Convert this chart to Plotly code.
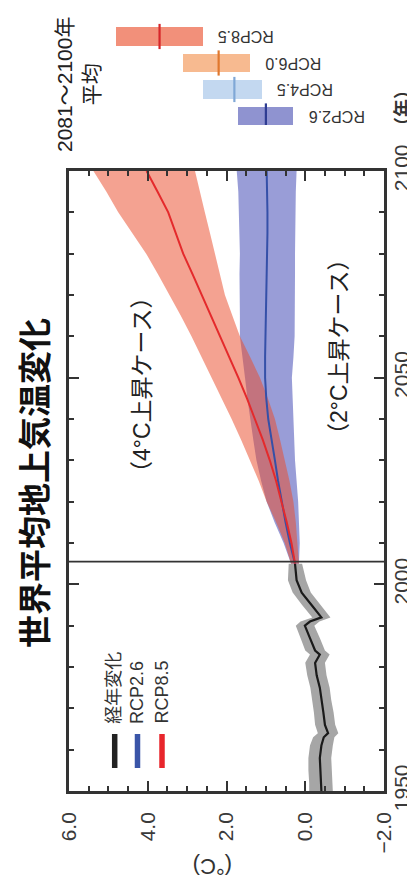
import plotly.graph_objects as go

# ---------------- data ----------------
hist_years = [1950, 1952, 1955, 1958, 1961, 1963, 1964, 1966, 1969, 1972, 1975, 1978,
              1981, 1983, 1984, 1987, 1990, 1991, 1992, 1995, 1998, 2001, 2005]
hist_mean = [-0.41, -0.40, -0.38, -0.37, -0.41, -0.47, -0.58, -0.50, -0.46, -0.41, -0.37, -0.29,
             -0.25, -0.37, -0.25, -0.12, 0.01, -0.12, -0.41, -0.16, 0.09, 0.22, 0.26]
hist_hi = [-0.10, -0.10, -0.08, -0.08, -0.12, -0.20, -0.32, -0.25, -0.22, -0.17, -0.13, -0.05,
           0.00, -0.12, 0.00, 0.12, 0.24, 0.12, -0.18, 0.08, 0.32, 0.44, 0.42]
hist_lo = [-0.70, -0.70, -0.68, -0.66, -0.70, -0.74, -0.84, -0.76, -0.72, -0.66, -0.62, -0.54,
           -0.50, -0.62, -0.50, -0.37, -0.23, -0.36, -0.64, -0.40, -0.14, -0.02, 0.08]

proj_years = [2005, 2010, 2015, 2020, 2025, 2030, 2035, 2040, 2045, 2050,
              2055, 2060, 2065, 2070, 2075, 2080, 2085, 2090, 2095, 2100]
rcp85_mean = [0.26, 0.35, 0.47, 0.60, 0.74, 0.90, 1.08, 1.28, 1.48, 1.70,
              1.93, 2.17, 2.40, 2.63, 2.86, 3.10, 3.29, 3.48, 3.75, 4.03]
rcp85_hi = [0.36, 0.52, 0.74, 0.98, 1.18, 1.40, 1.63, 1.87, 2.12, 2.38,
            2.63, 2.89, 3.16, 3.44, 3.74, 4.04, 4.40, 4.75, 5.05, 5.38]
rcp85_lo = [0.16, 0.20, 0.24, 0.30, 0.40, 0.52, 0.64, 0.77, 0.95, 1.15,
            1.40, 1.66, 1.85, 2.04, 2.17, 2.29, 2.42, 2.55, 2.68, 2.80]
rcp26_mean = [0.26, 0.39, 0.50, 0.60, 0.69, 0.77, 0.86, 0.94, 0.99, 1.02,
              1.02, 1.01, 1.00, 0.98, 0.97, 0.96, 0.96, 0.96, 0.97, 0.98]
rcp26_hi = [0.36, 0.55, 0.78, 0.98, 1.12, 1.24, 1.32, 1.40, 1.47, 1.53,
            1.60, 1.66, 1.66, 1.67, 1.67, 1.66, 1.67, 1.68, 1.70, 1.74]
rcp26_lo = [0.16, 0.14, 0.16, 0.18, 0.22, 0.26, 0.28, 0.30, 0.32, 0.34,
            0.30, 0.27, 0.26, 0.26, 0.26, 0.26, 0.26, 0.25, 0.24, 0.22]

# 2081-2100 averages
avg_names = ["RCP2.6", "RCP4.5", "RCP6.0", "RCP8.5"]
avg_mean = [1.0, 1.8, 2.2, 3.7]
avg_lo = [0.3, 1.1, 1.4, 2.6]
avg_hi = [1.7, 2.6, 3.1, 4.8]
avg_fill = ["#8F93D0", "#C3D8F0", "#F7BA90", "#F2907A"]
avg_line = ["#2E3C92", "#7FA7D6", "#E0782E", "#D6262A"]

temp_ticks = [6, 4, 2, 0, -2]
temp_ticktext = ["6.0", "4.0", "2.0", "0.0", "\u22122.0"]
year_ticks = [1950, 2000, 2050, 2100]
proj_start = 2005.5

legend_labels = ["経年変化", "RCP2.6", "RCP8.5"]
legend_colors = ["#222222", "#3A55A8", "#E8262C"]

FONT = "Liberation Sans, Noto Sans CJK JP, sans-serif"
W, H = 415, 879
ML, MR, MT, MB = 61, 39, 0, 96
PW, PH = W - ML - MR, H - MT - MB


def px(x):
    return (x - ML) / PW


def py(y):
    return (H - MB - y) / PH


fig = go.Figure()

# historical band + line
fig.add_trace(go.Scatter(x=hist_hi + hist_lo[::-1], y=hist_years + hist_years[::-1],
                         fill="toself", fillcolor="#A6A6A6", line=dict(width=0),
                         mode="lines", hoverinfo="skip", showlegend=False))
# RCP2.6 band
fig.add_trace(go.Scatter(x=rcp26_hi + rcp26_lo[::-1], y=proj_years + proj_years[::-1],
                         fill="toself", fillcolor="rgba(70,76,182,0.55)", line=dict(width=0),
                         mode="lines", hoverinfo="skip", showlegend=False))
# RCP8.5 band
fig.add_trace(go.Scatter(x=rcp85_hi + rcp85_lo[::-1], y=proj_years + proj_years[::-1],
                         fill="toself", fillcolor="rgba(234,76,44,0.52)", line=dict(width=0),
                         mode="lines", hoverinfo="skip", showlegend=False))
fig.add_trace(go.Scatter(x=hist_mean, y=hist_years, mode="lines",
                         line=dict(color="#1A1A1A", width=2.2), showlegend=False))
fig.add_trace(go.Scatter(x=rcp26_mean, y=proj_years, mode="lines",
                         line=dict(color="#3550A8", width=2), showlegend=False))
fig.add_trace(go.Scatter(x=rcp85_mean, y=proj_years, mode="lines",
                         line=dict(color="#E42A2C", width=2), showlegend=False))

# 2081-2100 average bars
fig.add_trace(go.Bar(y=avg_names, x=[h - l for h, l in zip(avg_hi, avg_lo)], base=avg_lo,
                     orientation="h", marker=dict(color=avg_fill, line=dict(width=0)),
                     width=0.68, xaxis="x2", yaxis="y2", showlegend=False))
fig.add_trace(go.Scatter(y=avg_names, x=avg_mean, mode="markers", xaxis="x2", yaxis="y2",
                         marker=dict(symbol="line-ns", size=18,
                                     line=dict(color=avg_line, width=2.2)),
                         showlegend=False))

axis_col = "#333333"
fig.update_layout(
    width=W, height=H, margin=dict(l=ML, r=MR, t=MT, b=MB, autoexpand=False),
    paper_bgcolor="white", plot_bgcolor="white",
    font=dict(family=FONT, color="#333333"),
    xaxis=dict(range=[6, -2], domain=[0, 1], anchor="y", automargin=False,
               tickvals=temp_ticks, ticktext=temp_ticktext, tickangle=-90,
               tickfont=dict(size=21, color="#3a3a3a"),
               ticks="inside", ticklen=10, tickwidth=2, tickcolor=axis_col,
               minor=dict(dtick=0.5, tick0=0, ticks="inside", ticklen=5, tickwidth=1.5,
                          tickcolor=axis_col),
               showline=True, linecolor=axis_col, linewidth=2.5, mirror="ticks",
               showgrid=False, zeroline=False, ticklabelstandoff=10),
    yaxis=dict(range=[1950, 2100], domain=[0, py(163)], anchor="x", side="right",
               automargin=False,
               tickvals=year_ticks, tickangle=-90,
               tickfont=dict(size=21, color="#3a3a3a"),
               ticks="inside", ticklen=10, tickwidth=2, tickcolor=axis_col,
               minor=dict(dtick=10, tick0=1950, ticks="inside", ticklen=5, tickwidth=1.5,
                          tickcolor=axis_col),
               showline=True, linecolor=axis_col, linewidth=2.5, mirror="ticks",
               showgrid=False, zeroline=False, ticklabelstandoff=-3),
    xaxis2=dict(range=[6, -2], domain=[0, 1], anchor="y2", visible=False, automargin=False),
    yaxis2=dict(domain=[py(117), 1], range=[-0.34, 4.075], anchor="x2", visible=False,
                automargin=False,
                type="category", categoryarray=avg_names, categoryorder="array"),
    bargap=0,
)

# projection start line
fig.add_shape(type="line", xref="x domain", yref="y", x0=0, x1=1, y0=proj_start, y1=proj_start,
              line=dict(color="#333333", width=1.8), layer="above")

# legend keys
for i, c in enumerate(legend_colors):
    xk = [106.7, 129.5, 154][i]
    fig.add_shape(type="line", xref="paper", yref="paper", x0=px(xk), x1=px(xk),
                  y0=py(760), y1=py(726), line=dict(color=c, width=5.5), layer="above")
    fig.add_annotation(xref="paper", yref="paper", x=px(xk - 1), y=py(718),
                       text=legend_labels[i], showarrow=False, textangle=-90,
                       xanchor="center", yanchor="bottom",
                       font=dict(size=18, color="#333333", family=FONT))

ann = []
# title
ann.append(dict(x=px(28), y=py(475), text="<b>世界平均地上気温変化</b>", textangle=-90,
                font=dict(size=33, color="#111111", family=FONT)))
ann.append(dict(x=px(134), y=py(377), text="（4°C上昇ケース）", textangle=-90,
                font=dict(size=23, color="#222222", family=FONT)))
ann.append(dict(x=px(331), y=py(339), text="（2°C上昇ケース）", textangle=-90,
                font=dict(size=23, color="#222222", family=FONT)))
ann.append(dict(x=px(70), y=py(77), text="2081～2100年<br>平均", textangle=-90,
                font=dict(size=21, color="#222222", family=FONT)))
ann.append(dict(x=px(205), y=py(859), text="(°C)", textangle=180,
                font=dict(size=22, color="#333333", family=FONT)))
ann.append(dict(x=px(394), y=py(100), text="<b>（年）</b>", textangle=-90,
                font=dict(size=18, color="#333333", family=FONT)))
for a in ann:
    fig.add_annotation(xref="paper", yref="paper", showarrow=False,
                       xanchor="center", yanchor="middle", **a)

# bar labels (upside-down)
for name, lo in zip(avg_names, avg_lo):
    fig.add_annotation(xref="x2", yref="y2", x=lo, y=name, text=name, textangle=180,
                       showarrow=False, xanchor="left", yanchor="middle", xshift=13,
                       font=dict(size=16, color="#333333", family=FONT))

fig.write_html("out.html")
